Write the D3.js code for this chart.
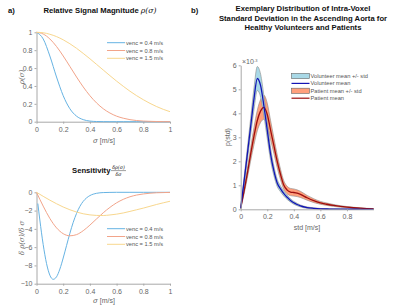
<!DOCTYPE html>
<html>
<head>
<meta charset="utf-8">
<script src="https://cdn.jsdelivr.net/npm/d3@7"></script>
<style>
	body { margin: 0; background: #fff; }
	svg { display: block; font-family: "Liberation Sans", Arial, sans-serif; }
	.axis .tick text { fill: #666; font-size: 7px; }
	.axis path, .axis line { stroke: #a8a8a8; stroke-width: 1; }
	.title { font-weight: bold; font-size: 7.7px; fill: #111; }
	.lab { font-size: 7px; fill: #666; }
	.leg { font-size: 5.7px; fill: #555; }
</style>
</head>
<body>
<svg id="chart" width="400" height="306"></svg>
<script>
// ---- panel a, signal magnitude rho(sigma) ----
const sigma = [0, 0.05, 0.1, 0.15, 0.2, 0.25, 0.3, 0.35, 0.4, 0.45, 0.5, 0.55, 0.6, 0.65, 0.7, 0.75, 0.8, 0.85, 0.9, 0.95, 1];
const rhoV04 = [1, 0.926, 0.735, 0.5, 0.291, 0.145, 0.062, 0.023, 0.007, 0.002, 0.0005, 0, 0, 0, 0, 0, 0, 0, 0, 0, 0];
const rhoV08 = [1, 0.981, 0.926, 0.841, 0.735, 0.618, 0.5, 0.389, 0.291, 0.21, 0.145, 0.097, 0.062, 0.039, 0.023, 0.013, 0.007, 0.004, 0.002, 0.001, 0.0005];
const rhoV15 = [1, 0.995, 0.978, 0.952, 0.916, 0.872, 0.821, 0.764, 0.704, 0.641, 0.578, 0.515, 0.454, 0.396, 0.341, 0.291, 0.246, 0.205, 0.169, 0.138, 0.112];

// ---- panel a, sensitivity ----
const sigmaFine = [0.01, 0.025, 0.05, 0.075, 0.1, 0.125, 0.15, 0.175, 0.2, 0.225, 0.25, 0.275, 0.3, 0.325, 0.35, 0.375, 0.4, 0.45, 0.5, 0.55, 0.6, 0.7, 0.8, 0.9, 1];
const sensV04 = [-1.23, -3.03, -5.71, -7.78, -9.07, -9.52, -9.25, -8.4, -7.19, -5.83, -4.49, -3.29, -2.31, -1.54, -0.99, -0.61, -0.36, -0.11, -0.03, -0.01, 0, 0, 0, 0, 0];
const sensV08 = [0, -1.51, -2.86, -3.89, -4.53, -4.76, -4.63, -4.2, -3.59, -2.91, -2.24, -1.65, -1.15, -0.77, -0.49, -0.3, -0.18, -0.1, -0.05, -0.03, -0.01];
const sensV15 = [0, -0.44, -0.86, -1.25, -1.61, -1.91, -2.16, -2.35, -2.47, -2.53, -2.54, -2.48, -2.39, -2.26, -2.09, -1.91, -1.73, -1.53, -1.33, -1.15, -0.98];

const vencLabels = ['venc = 0.4 m/s', 'venc = 0.8 m/s', 'venc = 1.5 m/s'];
const vencColours = ['#66b3e3', '#f2a48a', '#f8d78e'];

// ---- panel b, distribution of intra-voxel std (x 1e-3) ----
const stdGrid = [0, 0.025, 0.05, 0.075, 0.1, 0.125, 0.15, 0.175, 0.2, 0.225, 0.25, 0.275, 0.3, 0.325, 0.35, 0.375, 0.4, 0.425, 0.45, 0.5, 0.55, 0.6, 0.65, 0.7, 0.75, 0.8, 0.85, 0.9, 0.95, 1];
const volMean = [0.05, 1.15, 2.3, 3.45, 4.6, 5.45, 5.15, 4.3, 3.3, 2.3, 1.6, 1.1, 0.85, 0.65, 0.5, 0.37, 0.27, 0.2, 0.14, 0.07, 0.04, 0.02, 0.012, 0.008, 0.005, 0.003, 0.002, 0.001, 0.001, 0];
const volStd = [0.02, 0.15, 0.25, 0.35, 0.45, 0.5, 0.48, 0.42, 0.35, 0.27, 0.2, 0.15, 0.12, 0.1, 0.09, 0.07, 0.06, 0.05, 0.04, 0.03, 0.02, 0.015, 0.01, 0.01, 0.005, 0.005, 0, 0, 0, 0];
const patMean = [0.05, 0.75, 1.5, 2.3, 3.05, 3.7, 4.1, 4.25, 3.95, 3.3, 2.65, 2.0, 1.45, 1.0, 0.8, 0.72, 0.7, 0.67, 0.62, 0.48, 0.36, 0.27, 0.21, 0.16, 0.12, 0.09, 0.065, 0.045, 0.03, 0.02];
const patStd = [0.02, 0.12, 0.2, 0.28, 0.36, 0.43, 0.48, 0.5, 0.47, 0.4, 0.33, 0.27, 0.22, 0.18, 0.16, 0.15, 0.15, 0.14, 0.13, 0.1, 0.08, 0.06, 0.05, 0.04, 0.03, 0.025, 0.02, 0.015, 0.01, 0.01];

const unitTicks = [0, 0.2, 0.4, 0.6, 0.8, 1];
const sensTicks = [-10, -8, -6, -4, -2, 0];
const distXTicks = [0, 0.2, 0.4, 0.6, 0.8];
const distYTicks = [0, 1, 2, 3, 4, 5, 6];
const distLegend = ['Volunteer mean +/- std', 'Volunteer mean', 'Patient mean +/- std', 'Patient mean'];

const svg = d3.select('#chart');

function drawAxes(x, y, xTicks, yTicks) {
	const yBase = y.range()[0];
	svg.append('g')
		.attr('class', 'axis')
		.attr('transform', `translate(0,${yBase})`)
		.call(d3.axisBottom(x).tickValues(xTicks).tickSize(2).tickSizeOuter(0).tickPadding(3).tickFormat(d3.format('~g')));
	svg.append('g')
		.attr('class', 'axis')
		.attr('transform', `translate(${x.range()[0]},0)`)
		.call(d3.axisLeft(y).tickValues(yTicks).tickSize(2).tickSizeOuter(0).tickPadding(2).tickFormat(d3.format('~g')));
}

function drawLine(x, y, xs, ys, colour, width) {
	const line = d3.line()
		.x((d, i) => x(xs[i]))
		.y(d => y(d))
		.curve(d3.curveMonotoneX);
	svg.append('path')
		.datum(ys)
		.attr('fill', 'none')
		.attr('stroke', colour)
		.attr('stroke-width', width)
		.attr('stroke-linejoin', 'round')
		.attr('d', line);
}

function drawVencLegend(x0, y0) {
	vencLabels.forEach((t, i) => {
		const yy = y0 + i * 7.8;
		svg.append('line')
			.attr('x1', x0).attr('x2', x0 + 18)
			.attr('y1', yy).attr('y2', yy)
			.attr('stroke', vencColours[i]).attr('stroke-width', 1);
		svg.append('text').attr('class', 'leg')
			.attr('x', x0 + 19).attr('y', yy + 2)
			.text(t);
	});
}

// panel labels
svg.append('text').attr('class', 'title').attr('x', 8).attr('y', 13).text('a)');
svg.append('text').attr('class', 'title').attr('x', 191).attr('y', 13).text('b)');

// ===== top left: rho(sigma) =====
const xA = d3.scaleLinear().domain([0, 1]).range([36.5, 170]);
const yA = d3.scaleLinear().domain([0, 1]).range([121.7, 32.3]);
drawAxes(xA, yA, unitTicks, unitTicks);
[rhoV04, rhoV08, rhoV15].forEach((s, i) => drawLine(xA, yA, sigma, s, vencColours[i], 1));
drawVencLegend(107, 42.7);

const tA = svg.append('text').attr('class', 'title').attr('x', 100).attr('y', 12.7).attr('text-anchor', 'middle');
tA.append('tspan').text('Relative Signal Magnitude ');
tA.append('tspan').attr('font-style', 'italic').attr('font-weight', 'normal').attr('font-family', 'DejaVu Serif').text('ρ(σ)');

svg.append('text').attr('class', 'lab').attr('x', 104).attr('y', 142.5).attr('text-anchor', 'middle')
	.html('<tspan font-style="italic" font-family="DejaVu Serif">σ</tspan>  [m/s]');
svg.append('text').attr('class', 'lab').attr('text-anchor', 'middle')
	.attr('transform', 'translate(24,77) rotate(-90)')
	.attr('font-style', 'italic').attr('font-family', 'DejaVu Serif').attr('font-size', '6px')
	.text('ρ(σ)');

// ===== bottom left: sensitivity =====
const xS = d3.scaleLinear().domain([0, 1]).range([36.5, 170]);
const yS = d3.scaleLinear().domain([-10, 0]).range([283.7, 192.3]);
drawAxes(xS, yS, unitTicks, sensTicks);
drawLine(xS, yS, sigmaFine, sensV04, vencColours[0], 1);
drawLine(xS, yS, sigma, sensV08, vencColours[1], 1);
drawLine(xS, yS, sigma, sensV15, vencColours[2], 1);
drawVencLegend(107, 228.7);

svg.append('text').attr('class', 'title').attr('x', 72).attr('y', 172.5).text('Sensitivity');
const frac = svg.append('g').attr('font-style', 'italic').attr('font-family', 'DejaVu Serif').attr('font-size', '4.8px').attr('fill', '#111').attr('text-anchor', 'middle');
frac.append('text').attr('x', 118.5).attr('y', 169).text('δρ(σ)');
frac.append('line').attr('x1', 111).attr('x2', 126).attr('y1', 170.6).attr('y2', 170.6).attr('stroke', '#111').attr('stroke-width', 0.4);
frac.append('text').attr('x', 118.5).attr('y', 175.5).text('δσ');

svg.append('text').attr('class', 'lab').attr('x', 104).attr('y', 303).attr('text-anchor', 'middle')
	.html('<tspan font-style="italic" font-family="DejaVu Serif">σ</tspan> [m/s]');
svg.append('text').attr('class', 'lab').attr('text-anchor', 'middle')
	.attr('transform', 'translate(24,238) rotate(-90)')
	.attr('font-style', 'italic').attr('font-family', 'DejaVu Serif').attr('font-size', '5.5px')
	.text('δ ρ(σ)/δ σ');

// ===== right: distribution =====
const xB = d3.scaleLinear().domain([0, 1]).range([240.7, 373.5]);
const yB = d3.scaleLinear().domain([0, 6]).range([209.3, 65.3]);

function band(mean, sd, fill) {
	const area = d3.area()
		.x((d, i) => xB(stdGrid[i]))
		.y0((d, i) => yB(Math.max(0, mean[i] - sd[i])))
		.y1((d, i) => yB(mean[i] + sd[i]))
		.curve(d3.curveMonotoneX);
	svg.append('path')
		.datum(mean)
		.attr('fill', fill)
		.attr('stroke', '#8a8a8a')
		.attr('stroke-width', 0.6)
		.attr('d', area);
}

band(patMean, patStd, '#ff9f7c');
band(volMean, volStd, '#a9d9e7');
drawLine(xB, yB, stdGrid, patMean, '#9c0f0f', 1.3);
drawLine(xB, yB, stdGrid, volMean, '#1414b4', 1.3);
drawAxes(xB, yB, distXTicks, distYTicks);

svg.selectAll('.axis .tick text').attr('font-size', null);

const tB = svg.append('text').attr('class', 'title').attr('text-anchor', 'middle');
['Exemplary Distribution of Intra-Voxel', 'Standard Deviation in the Ascending Aorta for', 'Healthy Volunteers and Patients']
	.forEach((t, i) => tB.append('tspan').attr('x', 303).attr('y', 11 + i * 9.5).text(t));

svg.append('text').attr('class', 'lab').attr('x', 242).attr('y', 63.5).attr('font-size', '5px')
	.html('×10<tspan dy="-2" font-size="4px">-3</tspan>');
svg.append('text').attr('class', 'lab').attr('x', 307).attr('y', 229.5).attr('text-anchor', 'middle').text('std [m/s]');
svg.append('text').attr('class', 'lab').attr('text-anchor', 'middle')
	.attr('transform', 'translate(230,137) rotate(-90)').text('p(std)');

// legend b
const legFills = ['#a9d9e7', null, '#ff9f7c', null];
const legLines = [null, '#1414b4', null, '#9c0f0f'];
distLegend.forEach((t, i) => {
	const yy = 76 + i * 7.4;
	if (legFills[i]) {
		svg.append('rect').attr('x', 291.5).attr('y', yy - 2.6).attr('width', 18).attr('height', 5.2)
			.attr('fill', legFills[i]).attr('stroke', '#666').attr('stroke-width', 0.6);
	} else {
		svg.append('line').attr('x1', 291.5).attr('x2', 309.5).attr('y1', yy).attr('y2', yy)
			.attr('stroke', legLines[i]).attr('stroke-width', 1.2);
	}
	svg.append('text').attr('class', 'leg').attr('x', 310.5).attr('y', yy + 2).attr('font-size', '5.5px').text(t);
});
</script>
</body>
</html>
